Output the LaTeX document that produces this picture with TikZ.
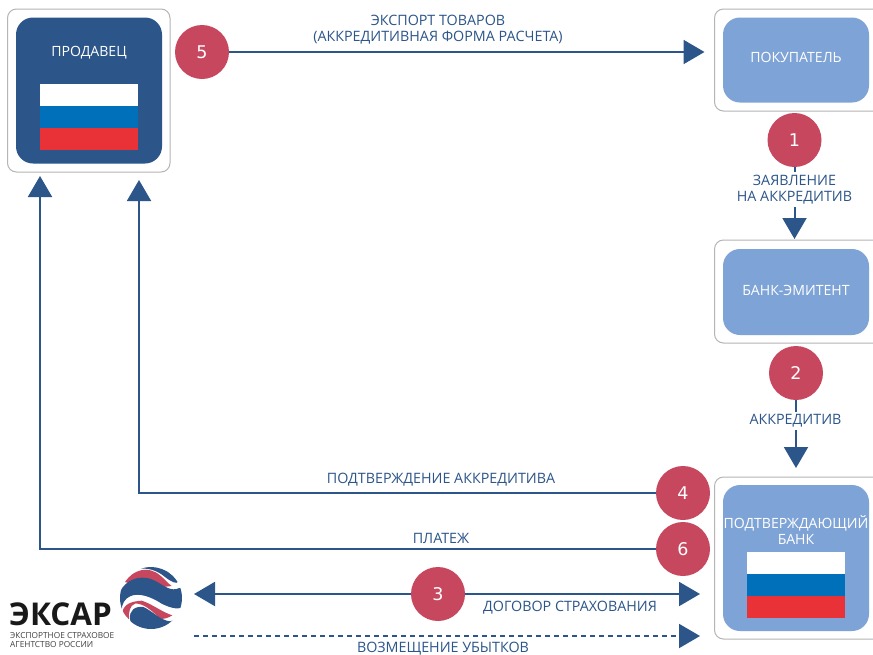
\documentclass[tikz,border=0pt]{standalone}
\usepackage{fontspec}
\setmainfont{Open Sans}
\newfontfamily\digitfont{DejaVu Sans}
\usetikzlibrary{arrows.meta}
\definecolor{dblue}{HTML}{2C5589}
\definecolor{lblue}{HTML}{7EA3D6}
\definecolor{crim}{HTML}{C7475F}
\definecolor{edgeg}{HTML}{B5B5B5}
\definecolor{flagb}{HTML}{0070BA}
\definecolor{flagr}{HTML}{E93237}
\tikzset{
 x=1pt,y=-1pt,
 outerbox/.style={draw=edgeg,line width=1pt,fill=white,rounded corners=9pt},
 innerdark/.style={fill=dblue,rounded corners=17pt},
 innerlight/.style={fill=lblue,rounded corners=17pt},
 numdot/.style={circle,fill=crim,minimum size=54pt,inner sep=0pt,text=white,font=\digitfont\fontsize{17.5}{19}\selectfont},
 conn/.style={draw=dblue,line width=2pt,-{Triangle[length=21pt,width=24pt,fill=dblue]}},
 connb/.style={draw=dblue,line width=2pt,{Triangle[length=21pt,width=24pt,fill=dblue]}-{Triangle[length=21pt,width=24pt,fill=dblue]}},
 connd/.style={draw=dblue,line width=2pt,dash pattern=on 5pt off 4pt,-{Triangle[length=21pt,width=24pt,fill=dblue]}},
 lab/.style={text=dblue,align=center,font=\fontsize{14.3}{16}\selectfont,inner sep=1pt},
 labw/.style={lab,fill=white,inner xsep=2pt,inner ysep=3pt},
 boxtext/.style={text=white,align=center,font=\fontsize{14.1}{18}\selectfont,inner sep=0pt},
}
\newcommand{\rusflag}[2]{%
 \fill[white] (#1,#2) rectangle ++(98,22);
 \fill[flagb] (#1,#2+22) rectangle ++(98,22);
 \fill[flagr] (#1,#2+44) rectangle ++(98,22);}
\begin{document}
\begin{tikzpicture}
\useasboundingbox (0,0) rectangle (873,654);
\fill[white] (0,0) rectangle (873,654);
% boxes
\draw[outerbox] (7.5,9) rectangle (170,172);
\fill[innerdark] (16,17.5) rectangle (162,163.5);
\rusflag{40}{84}
\node[boxtext] (seller) at (89,53) {ПРОДАВЕЦ};
\draw[outerbox] (714.5,9) rectangle (885,111);
\fill[innerlight] (723,17.5) rectangle (869,102.5);
\node[boxtext] (buyer) at (796,57) {ПОКУПАТЕЛЬ};
\draw[outerbox] (714.5,240) rectangle (885,343);
\fill[innerlight] (723,249) rectangle (869,335);
\node[boxtext] (issuer) at (796,290) {БАНК-ЭМИТЕНТ};
\draw[outerbox] (714.5,477) rectangle (885,639);
\fill[innerlight] (723,485) rectangle (869,631);
\rusflag{747}{552}
\node[boxtext,font=\fontsize{14.1}{16.5}\selectfont] (conf) at (796,530) {ПОДТВЕРЖДАЮЩИЙ\\БАНК};
% free ends
\coordinate (t5) at (704.5,52);
\coordinate (t1) at (794.5,239);
\coordinate (t2) at (796,468);
\coordinate (t4) at (139,180);
\coordinate (t6) at (40,176);
\coordinate (c4) at (139,493);
\coordinate (c6) at (40,549);
\coordinate (l3) at (194,594);
\coordinate (r3) at (700,594);
\coordinate (ld) at (194,636);
\coordinate (rd) at (700,636);
% connectors
\draw[connb] (l3) -- (r3);
\draw[connd] (ld) -- (rd);
\node[numdot] (n5) at (202,52) {5};
\node[numdot] (n1) at (794.5,140) {1};
\node[numdot] (n2) at (796,373) {2};
\node[numdot] (n4) at (683,493) {4};
\node[numdot] (n6) at (683,549) {6};
\node[numdot] (n3) at (438,594) {3};
\draw[conn] (n5) -- (t5);
\draw[conn] (n1) -- (t1);
\draw[conn] (n2) -- (t2);
\draw[conn] (n4) -- (c4) -- (t4);
\draw[conn] (n6) -- (c6) -- (t6);
% labels
\node[lab] (l5) at (438,29.5) {ЭКСПОРТ ТОВАРОВ\\(АККРЕДИТИВНАЯ ФОРМА РАСЧЕТА)};
\node[labw] (l1) at (794.5,189.5) {ЗАЯВЛЕНИЕ\\НА АККРЕДИТИВ};
\node[labw] (l2) at (795.5,421) {АККРЕДИТИВ};
\node[lab] (l4) at (441,480) {ПОДТВЕРЖДЕНИЕ АККРЕДИТИВА};
\node[lab] (l6) at (441,538) {ПЛАТЕЖ};
\node[lab] (l3t) at (570,608) {ДОГОВОР СТРАХОВАНИЯ};
\node[lab] (ldt) at (443,649) {ВОЗМЕЩЕНИЕ УБЫТКОВ};
% logo
\begin{scope}[shift={(115,562)},x=0.3333pt,y=-0.3333pt]
\clip (108,108) circle (93);
\fill[crim] (30,60) .. controls (55,22) and (100,10) .. (135,40) .. controls (150,52) and (160,65) .. (170,72) -- (100,80) -- cycle;
\fill[dblue] (78,20) .. controls (120,5) and (165,25) .. (190,58) .. controls (186,68) and (170,60) .. (150,45) .. controls (130,28) and (105,18) .. (78,20) -- cycle;
\fill[dblue] (0,145) -- (15,90) .. controls (30,55) and (70,40) .. (105,50) .. controls (135,60) and (150,80) .. (175,82) .. controls (190,83) and (195,72) .. (205,80) -- (210,130) .. controls (195,145) and (170,140) .. (140,125) .. controls (110,105) and (70,90) .. (45,103) .. controls (30,110) and (20,125) .. (20,145) -- cycle;
\fill[crim] (22,150) .. controls (28,125) and (50,118) .. (80,116) .. controls (110,125) and (140,150) .. (172,160) .. controls (160,168) and (145,172) .. (135,170) .. controls (115,150) and (85,122) .. (60,125) .. controls (45,130) and (40,150) .. (42,172) -- cycle;
\fill[dblue] (45,172) .. controls (42,145) and (60,132) .. (85,135) .. controls (110,145) and (135,175) .. (165,178) .. controls (175,178) and (180,172) .. (190,165) -- (200,215) -- (60,215) -- cycle;
\end{scope}
\node[text=black!90,inner sep=0pt,font=\fontsize{31.4}{31}\selectfont\bfseries,anchor=west] (logo) at (9,614) {ЭКСАР};
\node[text=black!75,inner sep=0pt,align=left,anchor=west,font=\fontsize{8.3}{9.5}\selectfont] (logot) at (10,640) {ЭКСПОРТНОЕ СТРАХОВОЕ\\АГЕНТСТВО РОССИИ};
\end{tikzpicture}
\end{document}
